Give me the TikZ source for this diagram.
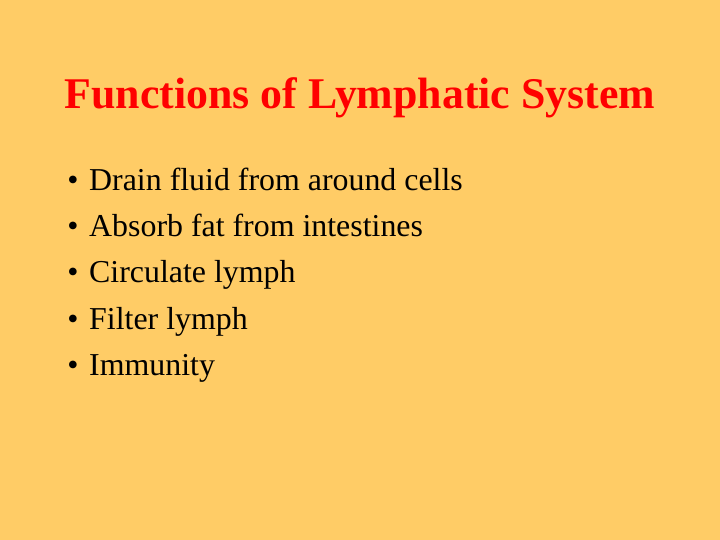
\documentclass[tikz,border=0pt]{standalone}
\usepackage{fontspec}
\setmainfont{Liberation Serif}
\definecolor{bg}{HTML}{FFCC66}
\definecolor{tred}{HTML}{FF0000}
\begin{document}
\begin{tikzpicture}[x=1bp,y=-1bp,
  item/.style={anchor=base west,inner sep=0,font=\fontsize{32}{32}\selectfont},
  dot/.style={anchor=base,inner sep=0,font=\fontsize{32}{32}\selectfont}]
\fill[bg] (0,0) rectangle (720,540);
\useasboundingbox (0,0) rectangle (720,540);
\node[anchor=base,inner sep=0,text=tred,font=\bfseries\fontsize{44}{44}\selectfont] (title) at (360,109) {Functions of Lymphatic System};
\foreach \t [count=\i] in {Drain fluid from around cells,Absorb fat from intestines,Circulate lymph,Filter lymph,Immunity}{
  \node[dot] (b\i) at (73,{191+46*(\i-1)}) {•};
  \node[item] (t\i) at (89,{191+46*(\i-1)}) {\t};
}
\end{tikzpicture}
\end{document}
